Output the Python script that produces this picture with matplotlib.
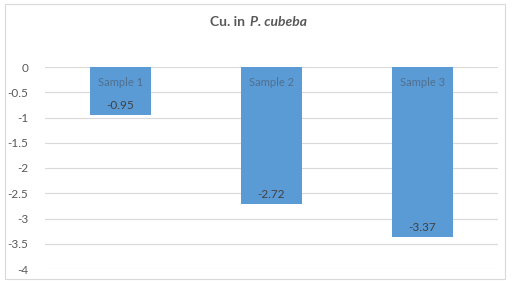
import matplotlib
matplotlib.use("Agg")
import matplotlib.pyplot as plt
from matplotlib.patches import Rectangle

categories = ["Sample 1", "Sample 2", "Sample 3"]
values = [-0.95, -2.72, -3.37]
yticks = [0, -0.5, -1, -1.5, -2, -2.5, -3, -3.5, -4]
ytick_labels = ["0", "-0.5", "-1", "-1.5", "-2", "-2.5", "-3", "-3.5", "-4"]

plt.rcParams['font.family'] = ['Lato', 'DejaVu Sans']

W, H = 528, 286
fig = plt.figure(figsize=(W / 100, H / 100), dpi=100)
fig.patch.set_facecolor("white")

# outer chart border
fig.patches.append(Rectangle((5 / W, 1 - 279 / H), 500 / W, 275 / H,
                             transform=fig.transFigure, fill=False,
                             edgecolor="#D9D9D9", linewidth=0.8))

ax = fig.add_axes([45 / W, 1 - 269 / H, 453 / W, 202 / H])
x = list(range(len(categories)))
bars = ax.bar(x, values, width=0.4, color="#5B9BD5", zorder=2)
ax.set_xlim(-0.5, 2.5)
ax.set_ylim(-4, 0)
ax.set_yticks(yticks)
ax.set_yticklabels(ytick_labels)
ax.set_xticks([])
ax.grid(axis="y", color="#D9D9D9", linewidth=0.8, zorder=0)
for s in ax.spines.values():
    s.set_visible(False)
ax.tick_params(axis="y", length=0, pad=12, labelsize=8.5, labelcolor="#595959")
for lbl in ax.get_yticklabels():
    lbl.set_horizontalalignment("right")

for xi, cat, v in zip(x, categories, values):
    ax.annotate(cat, (xi, 0), xytext=(0, -15), textcoords="offset points",
                ha="center", va="bottom", fontsize=8, color="#4F6F8F")
    ax.annotate(f"{v:.2f}", (xi, v), xytext=(0, 3), textcoords="offset points",
                ha="center", va="bottom", fontsize=8.5, color="#404040")

fig.text(245 / W, 1 - 22 / H, "Cu. in", ha="right", va="center",
         fontsize=10, fontweight="bold", color="#595959")
fig.text(250 / W, 1 - 22 / H, "P. cubeba", ha="left", va="center",
         fontsize=10, fontweight="bold", fontstyle="italic", color="#595959")

fig.savefig("out.png", dpi=100)
